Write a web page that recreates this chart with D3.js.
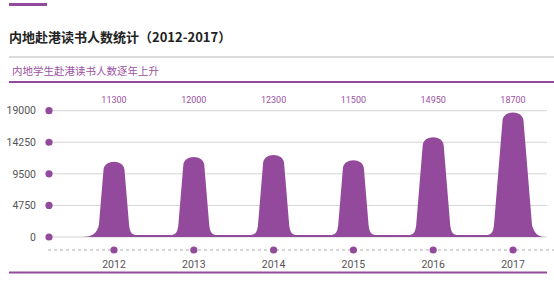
<!doctype html>
<html lang="zh">
<head>
  <meta charset="utf-8" />
  <title>内地赴港读书人数统计（2012-2017）</title>
  <script src="https://d3js.org/d3.v7.min.js"></script>
  <style>
    body { margin: 0; background: #fff; }
    text { font-family: "Roboto", "Noto Sans CJK SC", sans-serif; }
  </style>
</head>
<body>
  <div id="chart"></div>
  <script>
    // data
    const years = ["2012", "2013", "2014", "2015", "2016", "2017"];
    const students = [11300, 12000, 12300, 11500, 14950, 18700];
    const yTicks = [0, 4750, 9500, 14250, 19000];

    const width = 554, height = 284;
    const purple = "#944a9c";

    const svg = d3.select("#chart").append("svg")
      .attr("width", width)
      .attr("height", height);

    const x = d3.scalePoint().domain(years).range([114, 513]);
    const y = d3.scaleLinear().domain([0, 19000]).range([237, 110.7]);

    // header
    svg.append("rect").attr("x", 9).attr("y", 3).attr("width", 38).attr("height", 3).attr("fill", purple);
    svg.append("text")
      .attr("x", 9).attr("y", 42)
      .attr("font-size", 13).attr("font-weight", "bold").attr("fill", "#222")
      .style("font-family", "'Noto Sans CJK SC', sans-serif")
      .text("内地赴港读书人数统计（2012-2017）");
    svg.append("rect").attr("x", 9).attr("y", 56).attr("width", width - 9).attr("height", 2).attr("fill", "#dcdcdc");
    svg.append("text")
      .attr("x", 12).attr("y", 75)
      .attr("font-size", 10.5).attr("fill", "#9b52a2")
      .style("font-family", "'Noto Sans CJK SC', sans-serif")
      .text("内地学生赴港读书人数逐年上升");
    svg.append("rect").attr("x", 9).attr("y", 81).attr("width", width - 9).attr("height", 2).attr("fill", purple);

    // grid + y axis
    const grid = svg.append("g");
    grid.selectAll("line").data(yTicks).join("line")
      .attr("x1", 49).attr("x2", 547)
      .attr("y1", d => y(d)).attr("y2", d => y(d))
      .attr("stroke", "#d4d4d4").attr("stroke-width", 1);
    grid.selectAll("circle").data(yTicks).join("circle")
      .attr("cx", 49).attr("cy", d => y(d)).attr("r", 3.6).attr("fill", purple);
    grid.selectAll("text").data(yTicks).join("text")
      .attr("x", 36).attr("y", d => y(d)).attr("dy", "0.35em")
      .attr("text-anchor", "end").attr("font-size", 10.5).attr("fill", "#555")
      .text(d => d);

    // the mountain shape: one rounded peak per year, joined by a low valley
    const y0 = y(0), vy = y0 - 2;
    const p = d3.path();
    years.forEach((yr, i) => {
      const cx = x(yr), top = y(students[i]);
      const topHalf = 10.5;
      const baseHalf = topHalf + 0.08 * ((y0 - 12) - (top + 6));
      if (i === 0) {
        p.moveTo(cx - 32, y0);
        p.bezierCurveTo(cx - baseHalf - 6, y0, cx - baseHalf - 2, y0 - 4, cx - baseHalf, y0 - 12);
      } else {
        p.lineTo(cx - baseHalf - 8, vy);
        p.bezierCurveTo(cx - baseHalf - 3, vy, cx - baseHalf - 1, y0 - 4, cx - baseHalf, y0 - 12);
      }
      p.lineTo(cx - topHalf, top + 8);
      p.bezierCurveTo(cx - topHalf + 0.5, top - 3, cx + topHalf - 0.5, top - 3, cx + topHalf, top + 8);
      p.lineTo(cx + baseHalf, y0 - 12);
      if (i === years.length - 1) {
        p.bezierCurveTo(cx + baseHalf + 2, y0 - 4, cx + baseHalf + 6, y0, cx + 32, y0);
      } else {
        p.bezierCurveTo(cx + baseHalf + 1, y0 - 4, cx + baseHalf + 3, vy, cx + baseHalf + 8, vy);
      }
    });
    p.closePath();
    svg.append("path").attr("d", p.toString()).attr("fill", purple);

    // value labels
    svg.append("g").selectAll("text").data(years).join("text")
      .attr("x", d => x(d)).attr("y", 103)
      .attr("text-anchor", "middle").attr("font-size", 9).attr("fill", "#9b52a2")
      .text((d, i) => students[i]);

    // x axis
    svg.append("line")
      .attr("x1", 48).attr("x2", width).attr("y1", 250).attr("y2", 250)
      .attr("stroke", "#aaa").attr("stroke-dasharray", "3,3");
    svg.append("g").selectAll("circle").data(years).join("circle")
      .attr("cx", d => x(d)).attr("cy", 250).attr("r", 3.6).attr("fill", purple);
    svg.append("g").selectAll("text").data(years).join("text")
      .attr("x", d => x(d)).attr("y", 264).attr("dy", "0.35em")
      .attr("text-anchor", "middle").attr("font-size", 10.5).attr("fill", "#555")
      .text(d => d);
    svg.append("rect").attr("x", 9).attr("y", 271.5).attr("width", 538).attr("height", 2).attr("fill", purple);
  </script>
</body>
</html>
